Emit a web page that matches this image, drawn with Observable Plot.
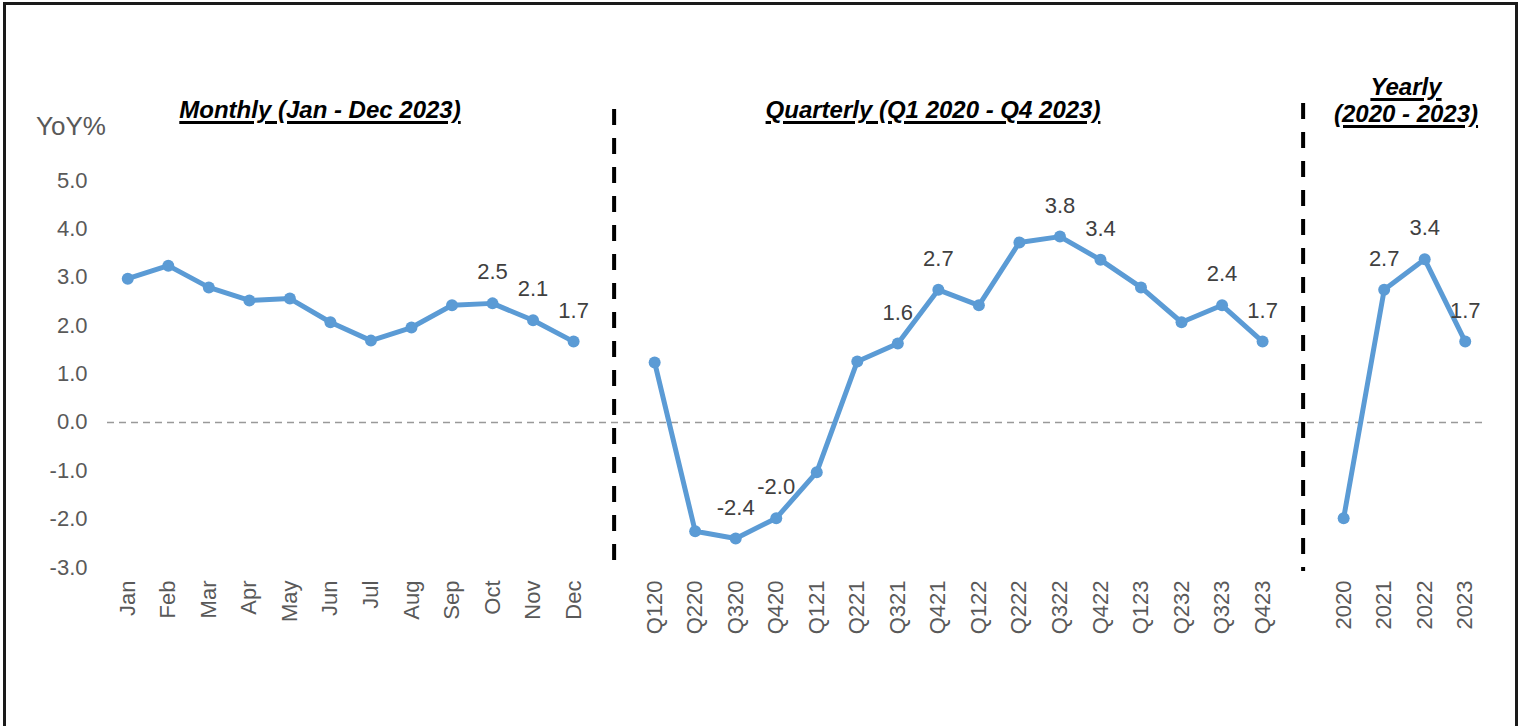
<!DOCTYPE html>
<html>
<head>
<meta charset="utf-8">
<script src="https://cdn.jsdelivr.net/npm/d3@7"></script>
<script src="https://cdn.jsdelivr.net/npm/@observablehq/plot@0.6"></script>
<style>
  html, body { margin: 0; padding: 0; background: #fff; }
  #wrap { position: relative; width: 1521px; height: 726px; overflow: hidden; background: #fff; font-family: "Liberation Sans", Arial, sans-serif; }
  #frame { position: absolute; left: 3px; top: 2px; width: 1509px; height: 800px; border: 3px solid #1a1a1a; box-sizing: content-box; pointer-events: none; }
  #chart { position: absolute; left: 0; top: 0; }
  .sec { position: absolute; text-align: center; font-weight: bold; font-style: italic; font-size: 24px; line-height: 27px; color: #000; text-decoration: underline; text-decoration-thickness: 3px; text-underline-offset: 3px; white-space: nowrap; }
  #ylab { position: absolute; left: 36px; top: 111px; font-size: 26px; line-height: 30px; color: #595959; }
</style>
</head>
<body>
<div id="wrap">
  <div id="chart"></div>
  <div id="ylab">YoY%</div>
  <div class="sec" style="left:120px; width:400px; top:96px;">Monthly (Jan - Dec 2023)</div>
  <div class="sec" style="left:733px; width:400px; top:96px;">Quarterly (Q1 2020 - Q4 2023)</div>
  <div class="sec" style="left:1306px; width:200px; top:73px;">Yearly<br>(2020 - 2023)</div>
  <div id="frame"></div>
</div>
<script>
// ---- data ----
const months = ["Jan","Feb","Mar","Apr","May","Jun","Jul","Aug","Sep","Oct","Nov","Dec"];
const monthlyValues = [2.97, 3.24, 2.79, 2.52, 2.56, 2.07, 1.69, 1.96, 2.42, 2.46, 2.11, 1.67];

const quarters = ["Q120","Q220","Q320","Q420","Q121","Q221","Q321","Q421","Q122","Q222","Q322","Q422","Q123","Q232","Q323","Q423"];
const quarterlyValues = [1.24, -2.25, -2.40, -1.98, -1.03, 1.26, 1.63, 2.74, 2.42, 3.72, 3.84, 3.36, 2.79, 2.07, 2.42, 1.67];

const years = ["2020","2021","2022","2023"];
const yearlyValues = [-1.98, 2.74, 3.37, 1.67];

const separators = ["sep1", "sep2"];
const labelled = ["Oct","Nov","Dec","Q320","Q420","Q321","Q421","Q322","Q422","Q323","Q423","2021","2022","2023"];
const yTicks = [5, 4, 3, 2, 1, 0, -1, -2, -3];

// ---- build table ----
const rows = [
  ...months.map((c, i) => ({cat: c, value: monthlyValues[i], seg: "monthly"})),
  ...quarters.map((c, i) => ({cat: c, value: quarterlyValues[i], seg: "quarterly"})),
  ...years.map((c, i) => ({cat: c, value: yearlyValues[i], seg: "yearly"}))
];
const labelRows = rows.filter(d => labelled.includes(d.cat));
const domain = [...months, separators[0], ...quarters, separators[1], ...years];

const blue = "#5B9BD5";

const chart = Plot.plot({
  width: 1521,
  height: 726,
  marginLeft: 107,
  marginRight: 36,
  marginTop: 180,
  marginBottom: 159,
  style: {fontFamily: "'Liberation Sans', Arial, sans-serif", fontSize: "22px", color: "#595959", background: "transparent", overflow: "visible"},
  x: {type: "point", domain, padding: 0.5, round: false},
  y: {domain: [-3, 5]},
  marks: [
    Plot.axisY({ticks: yTicks, tickFormat: d => d.toFixed(1), tickSize: 0, tickPadding: 20, label: null, fontSize: 22}),
    Plot.axisX({tickRotate: -90, tickSize: 0, tickPadding: 13, label: null, tickFormat: d => separators.includes(d) ? "" : d, fontSize: 22}),
    Plot.ruleY([0], {stroke: "#999", strokeWidth: 1.5, strokeDasharray: "7,5"}),
    Plot.ruleX([separators[0]], {y1: 5, y2: -3, insetTop: -71, insetBottom: -4, stroke: "#000", strokeWidth: 4, strokeDasharray: "16,13"}),
    Plot.ruleX([separators[1]], {y1: 5, y2: -3, insetTop: -77, insetBottom: -4, stroke: "#000", strokeWidth: 4, strokeDasharray: "16,13"}),
    Plot.line(rows, {x: "cat", y: "value", z: "seg", stroke: blue, strokeWidth: 5, strokeLinejoin: "round"}),
    Plot.dot(rows, {x: "cat", y: "value", r: 6, fill: blue}),
    Plot.text(labelRows, {x: "cat", y: "value", text: d => d.value.toFixed(1), dy: -31, fontSize: 22, fill: "#404040"})
  ]
});
document.getElementById("chart").appendChild(chart);
</script>
</body>
</html>
